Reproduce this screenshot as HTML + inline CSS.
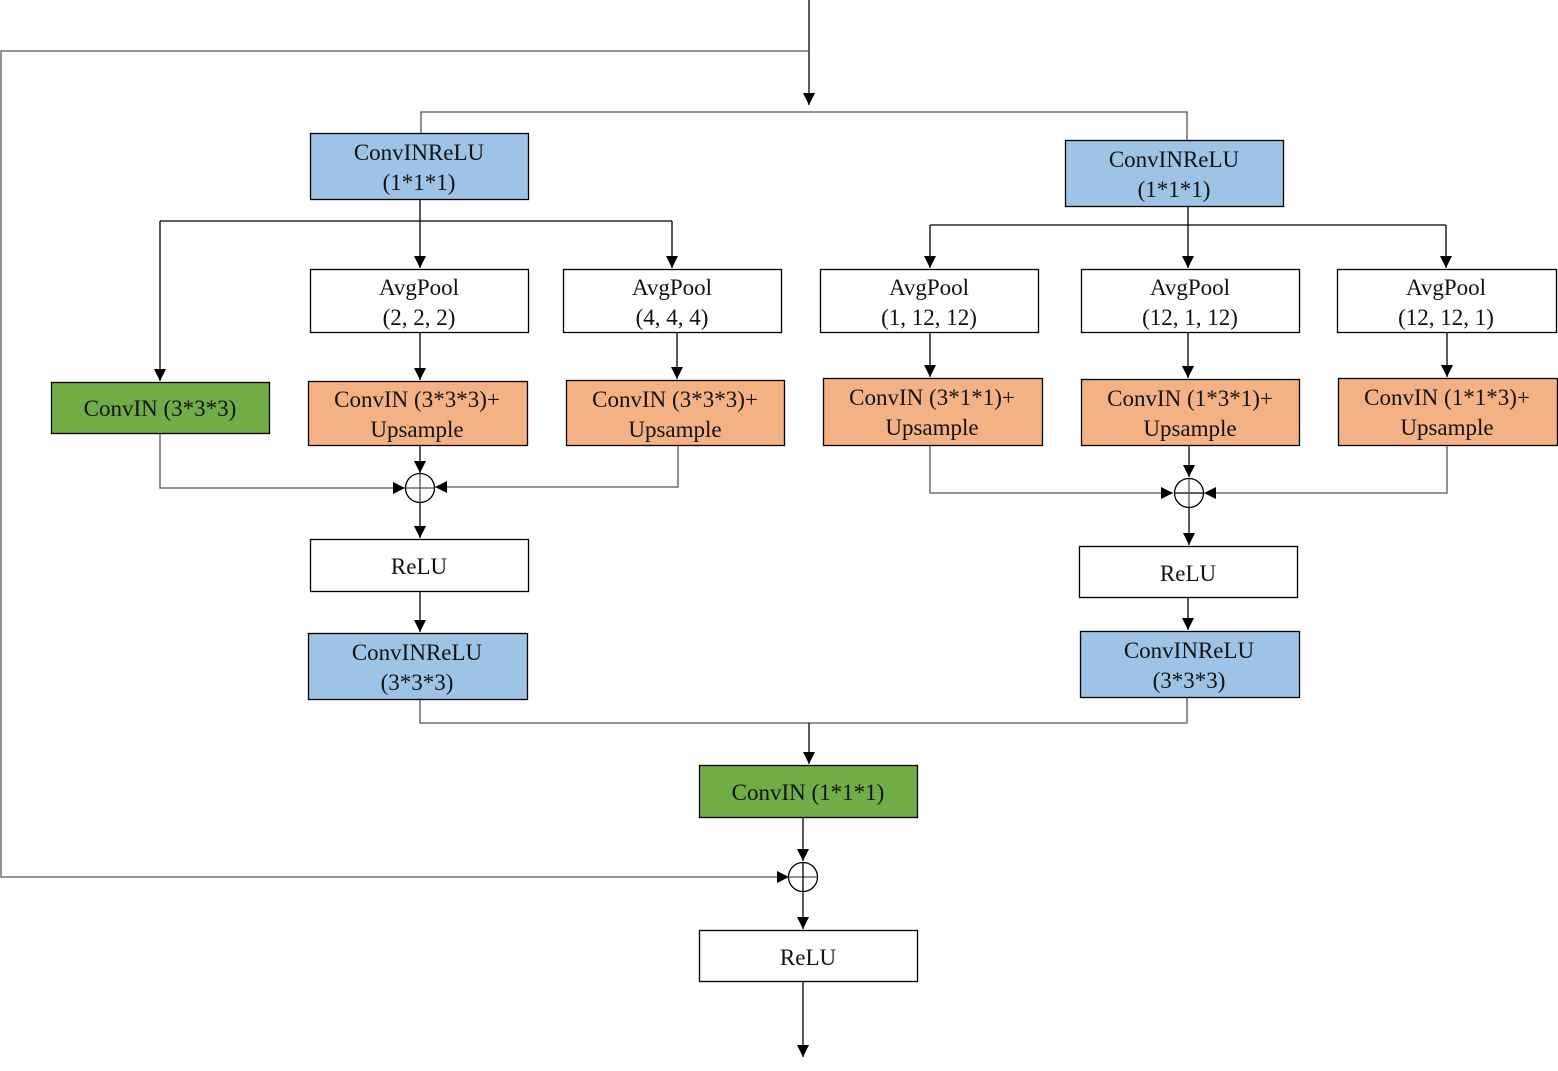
<!DOCTYPE html>
<html><head><meta charset="utf-8"><style>
html,body{margin:0;padding:0;background:#fff;}
svg{display:block;}
text{font-family:"Liberation Serif",serif;font-size:23px;fill:#111;text-anchor:middle;}
</style></head><body>
<svg width="1558" height="1071" viewBox="0 0 1558 1071" xmlns="http://www.w3.org/2000/svg">
<defs>
<marker id="a" viewBox="0 0 10 10" refX="10" refY="5" markerWidth="12" markerHeight="12" markerUnits="userSpaceOnUse" orient="auto"><path d="M0,0 L10,5 L0,10 z" fill="#000"/></marker>
</defs>
<g fill="none" stroke-width="1.3">
<!-- top input -->
<line x1="809" y1="0" x2="809" y2="105" stroke="#000" marker-end="url(#a)"/>
<polyline points="809,51 1,51 1,877 789,877" stroke="#555" marker-end="url(#a)"/>
<polyline points="421,133 421,112 1187,112 1187,140" stroke="#555"/>
<!-- left branch -->
<line x1="420" y1="199" x2="420" y2="221" stroke="#000"/>
<line x1="160" y1="221" x2="672" y2="221" stroke="#000"/>
<line x1="160" y1="221" x2="160" y2="381" stroke="#000" marker-end="url(#a)"/>
<line x1="420" y1="221" x2="420" y2="268" stroke="#000" marker-end="url(#a)"/>
<line x1="672" y1="221" x2="672" y2="268" stroke="#000" marker-end="url(#a)"/>
<line x1="420" y1="332" x2="420" y2="380" stroke="#000" marker-end="url(#a)"/>
<line x1="677" y1="332" x2="677" y2="379" stroke="#000" marker-end="url(#a)"/>
<polyline points="160,433 160,488 405,488" stroke="#555" marker-end="url(#a)"/>
<line x1="420" y1="445" x2="420" y2="473" stroke="#000" marker-end="url(#a)"/>
<polyline points="678,445 678,487 435,487" stroke="#555" marker-end="url(#a)"/>
<line x1="420" y1="503" x2="420" y2="538" stroke="#000" marker-end="url(#a)"/>
<line x1="420" y1="591" x2="420" y2="632" stroke="#000" marker-end="url(#a)"/>
<!-- right branch -->
<line x1="1188" y1="206" x2="1188" y2="268" stroke="#000" marker-end="url(#a)"/>
<line x1="930" y1="225" x2="1446" y2="225" stroke="#000"/>
<line x1="930" y1="225" x2="930" y2="268" stroke="#000" marker-end="url(#a)"/>
<line x1="1446" y1="225" x2="1446" y2="268" stroke="#000" marker-end="url(#a)"/>
<line x1="930" y1="332" x2="930" y2="377" stroke="#000" marker-end="url(#a)"/>
<line x1="1188" y1="332" x2="1188" y2="378" stroke="#000" marker-end="url(#a)"/>
<line x1="1447" y1="332" x2="1447" y2="377" stroke="#000" marker-end="url(#a)"/>
<polyline points="930,445 930,493 1173,493" stroke="#555" marker-end="url(#a)"/>
<line x1="1189" y1="445" x2="1189" y2="477" stroke="#000" marker-end="url(#a)"/>
<polyline points="1447,445 1447,493 1204,493" stroke="#555" marker-end="url(#a)"/>
<line x1="1189" y1="508" x2="1189" y2="545" stroke="#000" marker-end="url(#a)"/>
<line x1="1188" y1="597" x2="1188" y2="630" stroke="#000" marker-end="url(#a)"/>
<!-- merge -->
<polyline points="420,699 420,723 1187,723 1187,697" stroke="#555"/>
<line x1="809" y1="723" x2="809" y2="764" stroke="#000" marker-end="url(#a)"/>
<line x1="803" y1="817" x2="803" y2="861" stroke="#000" marker-end="url(#a)"/>
<line x1="803" y1="892" x2="803" y2="929" stroke="#000" marker-end="url(#a)"/>
<line x1="803" y1="981" x2="803" y2="1057" stroke="#000" marker-end="url(#a)"/>
<!-- circles -->
<circle cx="420" cy="488" r="14.5" stroke="#000" fill="#fff"/>
<line x1="405.5" y1="488" x2="434.5" y2="488" stroke="#555"/><line x1="420" y1="473.5" x2="420" y2="502.5" stroke="#555"/>
<circle cx="1189" cy="493" r="14.5" stroke="#000" fill="#fff"/>
<line x1="1174.5" y1="493" x2="1203.5" y2="493" stroke="#000"/><line x1="1189" y1="478.5" x2="1189" y2="507.5" stroke="#555"/>
<circle cx="803" cy="877" r="14.5" stroke="#000" fill="#fff"/>
<line x1="788.5" y1="877" x2="817.5" y2="877" stroke="#555"/><line x1="803" y1="862.5" x2="803" y2="891.5" stroke="#000"/>
</g>
<g stroke="#000" stroke-width="1.3">
<rect x="310.5" y="133.5" width="218" height="66" fill="#9DC3E6"/>
<rect x="1065.5" y="140.5" width="218" height="66" fill="#9DC3E6"/>
<rect x="310.5" y="269.5" width="218" height="63" fill="#fff"/>
<rect x="563.5" y="269.5" width="218" height="63" fill="#fff"/>
<rect x="820.5" y="269.5" width="218" height="63" fill="#fff"/>
<rect x="1081.5" y="269.5" width="218" height="63" fill="#fff"/>
<rect x="1337.5" y="269.5" width="219" height="63" fill="#fff"/>
<rect x="51.5" y="382.5" width="218" height="51" fill="#70AD47"/>
<rect x="308.5" y="381.5" width="219" height="64" fill="#F4B183"/>
<rect x="566.5" y="380.5" width="218" height="65" fill="#F4B183"/>
<rect x="823.5" y="378.5" width="219" height="67" fill="#F4B183"/>
<rect x="1081.5" y="379.5" width="218" height="66" fill="#F4B183"/>
<rect x="1338.5" y="378.5" width="219" height="67" fill="#F4B183"/>
<rect x="310.5" y="539.5" width="218" height="52" fill="#fff"/>
<rect x="1079.5" y="546.5" width="218" height="51" fill="#fff"/>
<rect x="308.5" y="633.5" width="219" height="66" fill="#9DC3E6"/>
<rect x="1080.5" y="631.5" width="219" height="66" fill="#9DC3E6"/>
<rect x="699.5" y="765.5" width="218" height="52" fill="#70AD47"/>
<rect x="699.5" y="930.5" width="218" height="51" fill="#fff"/>
</g>
<g>
<text x="419" y="160">ConvINReLU</text><text x="419" y="190">(1*1*1)</text>
<text x="1174" y="167">ConvINReLU</text><text x="1174" y="197">(1*1*1)</text>
<text x="419" y="295">AvgPool</text><text x="419" y="325">(2, 2, 2)</text>
<text x="672" y="295">AvgPool</text><text x="672" y="325">(4, 4, 4)</text>
<text x="929" y="295">AvgPool</text><text x="929" y="325">(1, 12, 12)</text>
<text x="1190" y="295">AvgPool</text><text x="1190" y="325">(12, 1, 12)</text>
<text x="1446" y="295">AvgPool</text><text x="1446" y="325">(12, 12, 1)</text>
<text x="160" y="416">ConvIN (3*3*3)</text>
<text x="417" y="407">ConvIN (3*3*3)+</text><text x="417" y="437">Upsample</text>
<text x="675" y="407">ConvIN (3*3*3)+</text><text x="675" y="437">Upsample</text>
<text x="932" y="405">ConvIN (3*1*1)+</text><text x="932" y="435">Upsample</text>
<text x="1190" y="406">ConvIN (1*3*1)+</text><text x="1190" y="436">Upsample</text>
<text x="1447" y="405">ConvIN (1*1*3)+</text><text x="1447" y="435">Upsample</text>
<text x="419" y="574">ReLU</text>
<text x="1188" y="581">ReLU</text>
<text x="417" y="660">ConvINReLU</text><text x="417" y="690">(3*3*3)</text>
<text x="1189" y="658">ConvINReLU</text><text x="1189" y="688">(3*3*3)</text>
<text x="808" y="800">ConvIN (1*1*1)</text>
<text x="808" y="965">ReLU</text>
</g>
</svg>
</body></html>
